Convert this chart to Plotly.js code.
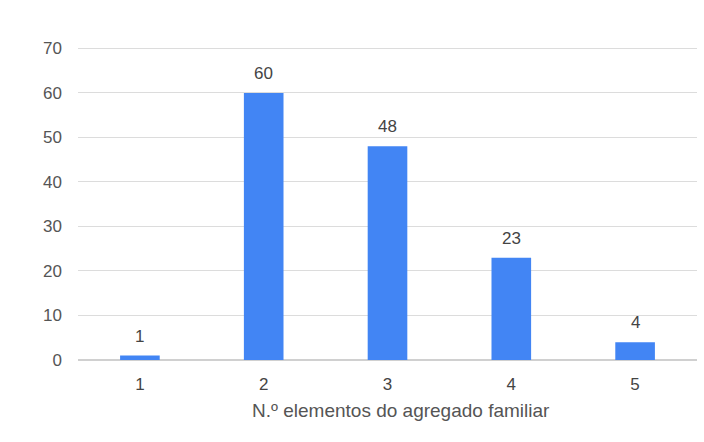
<!DOCTYPE html>
<html>
<head>
<meta charset="utf-8">
<script src="https://cdn.plot.ly/plotly-3.0.1.min.js"></script>
<style>html,body{margin:0;padding:0;background:#fff;}</style>
</head>
<body>
<div id="chart" style="width:704px;height:442px;"></div>
<script>
const categories = [1, 2, 3, 4, 5];
const values = [1, 60, 48, 23, 4];
const yTicks = [0, 10, 20, 30, 40, 50, 60, 70];
const xTitle = 'N.º elementos do agregado familiar';

const FONT = 'Arial, "Liberation Sans", sans-serif';

const barLabels = categories.map((c, i) => ({
  x: c, y: values[i], text: String(values[i]),
  xref: 'x', yref: 'y', showarrow: false,
  yanchor: 'bottom', yshift: 8,
  font: {family: FONT, size: 17, color: '#444'}
}));

Plotly.newPlot('chart', [{
  type: 'bar',
  x: categories,
  y: values,
  marker: {color: '#4285F4'},
  hoverinfo: 'none'
}], {
  width: 704, height: 442,
  margin: {l: 78, r: 7, t: 44, b: 82},
  paper_bgcolor: '#fff', plot_bgcolor: '#fff',
  bargap: 0.68,
  font: {family: FONT, color: '#555', size: 17},
  annotations: barLabels.concat([{
    x: 0.522, y: -0.16, xref: 'paper', yref: 'paper',
    xanchor: 'center', yanchor: 'middle', showarrow: false,
    text: xTitle,
    font: {family: FONT, size: 19, color: '#555'}
  }]),
  xaxis: {
    range: [0.5, 5.5],
    tickvals: categories,
    ticktext: categories.map(String),
    showgrid: false,
    zeroline: false,
    showline: false,
    ticks: '',
    ticklabelstandoff: 12,
    tickfont: {family: FONT, size: 17, color: '#444'}
  },
  yaxis: {
    range: [0, 71],
    tickvals: yTicks,
    showgrid: true,
    gridcolor: '#dcdcdc',
    gridwidth: 1,
    zeroline: true,
    zerolinecolor: '#d0d0d0',
    zerolinewidth: 2,
    ticks: '',
    ticklabelstandoff: 15,
    tickfont: {family: FONT, size: 17, color: '#555'}
  },
  showlegend: false
}, {displayModeBar: false, staticPlot: true});
</script>
</body>
</html>
